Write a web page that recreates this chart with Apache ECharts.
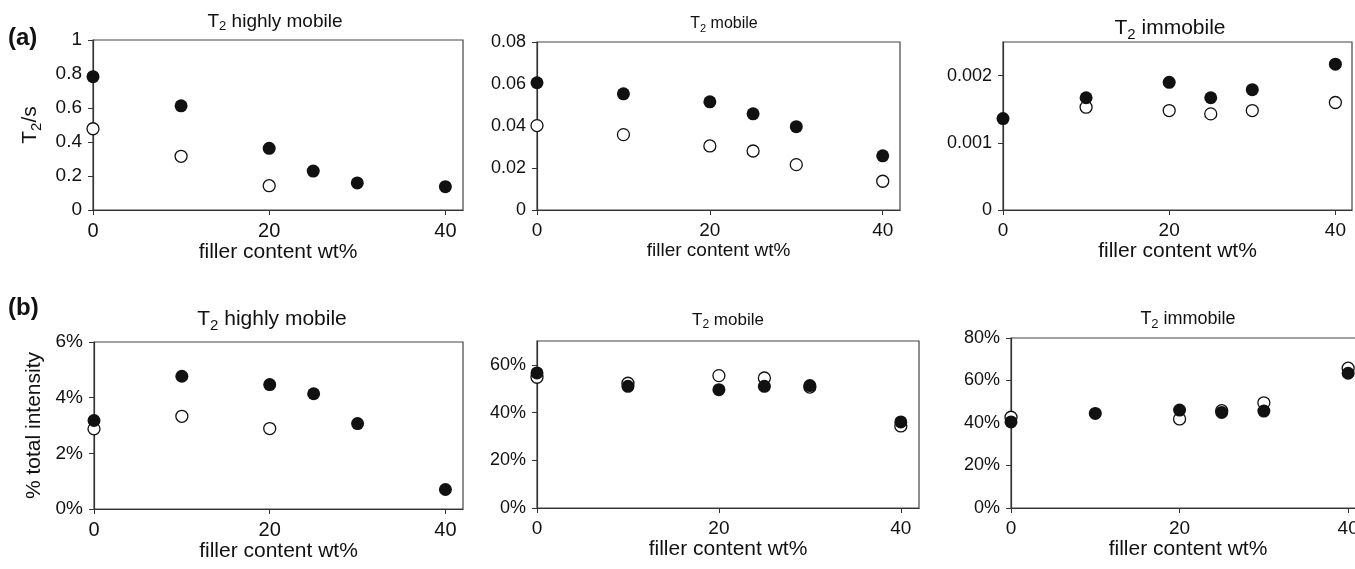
<!DOCTYPE html>
<html>
<head>
<meta charset="utf-8">
<script src="https://cdn.jsdelivr.net/npm/echarts@6/dist/echarts.min.js"></script>
<style>
  html, body { margin: 0; padding: 0; background: #fff; }
  #chart { width: 1355px; height: 569px; }
</style>
</head>
<body>
<div id="chart"></div>
<script>
const fillerWt = [0, 10, 20, 25, 30, 40];
const xTicks = [0, 20, 40];

// (a) T2 in seconds, filled = one sample set, open = the other
const t2HighFilled = [0.784, 0.613, 0.363, 0.229, 0.159, 0.137];
const t2HighOpen = [0.478, 0.316, 0.143, null, null, null];
const t2MobFilled = [0.0606, 0.0553, 0.0515, 0.0458, 0.0397, 0.0258];
const t2MobOpen = [0.0402, 0.0359, 0.0305, 0.0281, 0.0216, 0.0137];
const t2ImmFilled = [0.00136, 0.00167, 0.00190, 0.00167, 0.00179, 0.00217];
const t2ImmOpen = [null, 0.00153, 0.00148, 0.00143, 0.00148, 0.00160];

// (b) % of total intensity
const intHighFilled = [3.18, 4.77, 4.47, 4.14, 3.07, 0.70];
const intHighOpen = [2.88, 3.33, 2.89, null, null, null];
const intMobFilled = [56.6, 51.0, 49.6, 51.0, 51.3, 36.1];
const intMobOpen = [54.8, 52.3, 55.5, 54.5, 50.7, 34.4];
const intImmFilled = [40.5, 44.5, 46.1, 45.0, 45.6, 63.4];
const intImmOpen = [42.7, null, 41.9, 45.8, 49.5, 65.8];

const yTicksA1 = [0, 0.2, 0.4, 0.6, 0.8, 1];
const yTicksA2 = [0, 0.02, 0.04, 0.06, 0.08];
const yTicksA3 = [0, 0.001, 0.002];
const yTicksB1 = [0, 2, 4, 6];
const yTicksB2 = [0, 20, 40, 60];
const yTicksB3 = [0, 20, 40, 60, 80];

const FONT = '"Liberation Sans", Arial, sans-serif';
const INK = '#111';

function pairs(vals) {
  const out = [];
  vals.forEach((v, i) => { if (v != null) out.push([fillerWt[i], v]); });
  return out;
}

function subRich(fs) {
  return {
    t: { fontSize: fs, fontFamily: FONT, fontWeight: 'normal', color: INK },
    s: { fontSize: Math.round(fs * 0.7), fontFamily: FONT, fontWeight: 'normal', color: INK,
         padding: [Math.round(fs * 0.55), 0, 0, 0] },
  };
}

// box = [left, top, width, height]; b3 runs past the right edge of the picture
const panels = [
  { box: [93, 40, 370, 170], ymax: 1, ticks: yTicksA1, pct: false, filled: t2HighFilled, open: t2HighOpen,
    title: ' highly mobile', tx: 275, ty: 21, tfs: 19, lfs: 19, nfs: 21, yname: true },
  { box: [537, 42, 363, 168], ymax: 0.08, ticks: yTicksA2, pct: false, filled: t2MobFilled, open: t2MobOpen,
    title: ' mobile', tx: 724, ty: 25, tfs: 16, lfs: 18, nfs: 19 },
  { box: [1003, 42, 349, 168], ymax: 0.0025, ticks: yTicksA3, pct: false, filled: t2ImmFilled, open: t2ImmOpen,
    title: ' immobile', tx: 1170, ty: 26, tfs: 21, lfs: 18, nfs: 21 },
  { box: [94, 342, 369, 167], ymax: 6, ticks: yTicksB1, pct: true, filled: intHighFilled, open: intHighOpen,
    title: ' highly mobile', tx: 272, ty: 317, tfs: 21, lfs: 19, nfs: 21, yname: true },
  { box: [537, 341, 382, 167], ymax: 70, ticks: yTicksB2, pct: true, filled: intMobFilled, open: intMobOpen,
    title: ' mobile', tx: 728, ty: 321, tfs: 17, lfs: 18, nfs: 21 },
  { box: [1011, 338, 354, 170], ymax: 80, ticks: yTicksB3, pct: true, filled: intImmFilled, open: intImmOpen,
    title: ' immobile', tx: 1188, ty: 319, tfs: 18, lfs: 18, nfs: 21 },
];

const grid = [], xAxis = [], yAxis = [], series = [], title = [];

panels.forEach((p, i) => {
  grid.push({
    left: p.box[0], top: p.box[1], width: p.box[2], height: p.box[3],
    outerBoundsMode: 'none', containLabel: false,
    show: true, borderColor: '#444', borderWidth: 1.2, backgroundColor: 'transparent',
  });
  xAxis.push({
    gridIndex: i, type: 'value', min: 0, max: 42,
    name: 'filler content wt%', nameLocation: 'middle', nameGap: 27,
    nameTextStyle: { fontSize: p.nfs, fontFamily: FONT, color: INK },
    axisLine: { show: true, onZero: false, lineStyle: { color: '#333', width: 1.2 } },
    axisTick: { show: true, inside: false, length: 5, customValues: xTicks, lineStyle: { color: '#333' } },
    axisLabel: { customValues: xTicks, margin: 11, fontSize: p.lfs + 1, fontFamily: FONT, color: INK },
    splitLine: { show: false },
  });
  const y = {
    gridIndex: i, type: 'value', min: 0, max: p.ymax,
    axisLine: { show: true, onZero: false, lineStyle: { color: '#333', width: 1.2 } },
    axisTick: { show: true, inside: false, length: 5, customValues: p.ticks, lineStyle: { color: '#333' } },
    axisLabel: {
      customValues: p.ticks, margin: 11, fontSize: p.lfs, fontFamily: FONT, color: INK,
      formatter: p.pct ? '{value}%' : (v) => String(+v.toFixed(4)),
    },
    splitLine: { show: false },
  };
  if (p.yname) {
    y.nameLocation = 'middle';
    y.nameGap = 49;
    if (p.pct) {
      y.name = '% total intensity';
      y.nameTextStyle = { fontSize: 21, fontFamily: FONT, color: INK };
    } else {
      y.name = '{t|T}{s|2}{t|/s}';
      y.nameTextStyle = { rich: subRich(21) };
    }
  }
  yAxis.push(y);
  title.push({
    text: '{t|T}{s|2}{t|' + p.title + '}',
    left: p.tx, top: p.ty - 11, textAlign: 'center', padding: 0,
    textStyle: { fontWeight: 'normal', rich: subRich(p.tfs) },
  });
  series.push({
    type: 'scatter', xAxisIndex: i, yAxisIndex: i, data: pairs(p.open),
    symbol: 'circle', symbolSize: 12, silent: true,
    itemStyle: { color: '#fff', borderColor: INK, borderWidth: 1.3, opacity: 1 },
  });
  series.push({
    type: 'scatter', xAxisIndex: i, yAxisIndex: i, data: pairs(p.filled),
    symbol: 'circle', symbolSize: 13, silent: true,
    itemStyle: { color: INK, opacity: 1 },
  });
});

const chart = echarts.init(document.getElementById('chart'));
chart.setOption({
  animation: false,
  backgroundColor: '#fff',
  title,
  grid,
  xAxis,
  yAxis,
  series,
  graphic: [
    { type: 'text', left: 8, top: 26, style: { text: '(a)', fontSize: 24, fontWeight: 'bold', fontFamily: FONT, fill: INK } },
    { type: 'text', left: 8, top: 296, style: { text: '(b)', fontSize: 24, fontWeight: 'bold', fontFamily: FONT, fill: INK } },
  ],
});
</script>
</body>
</html>
